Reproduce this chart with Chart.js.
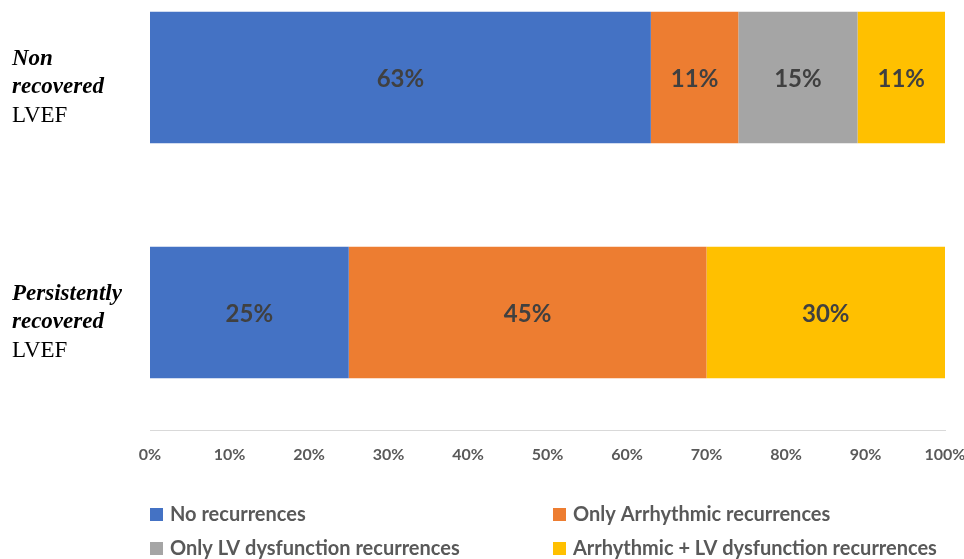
<!DOCTYPE html>
<html>
<head>
<meta charset="utf-8">
<script src="https://cdn.jsdelivr.net/npm/chart.js@4"></script>
<style>
    body { margin: 0; background: #fff; }
    #wrap { width: 964px; height: 559px; overflow: hidden; }
    /* plot area in the source is cut off at the top, so the canvas starts above the page */
    #lvefChart { display: block; margin-top: -40px; }
</style>
</head>
<body>
<div id="wrap"><canvas id="lvefChart" width="964" height="599"></canvas></div>
<script>
// Data
const categories = ['Non recovered LVEF', 'Persistently recovered LVEF'];
const seriesNames = [
    'No recurrences',
    'Only Arrhythmic recurrences',
    'Only LV dysfunction recurrences',
    'Arrhythmic + LV dysfunction recurrences'
];
const noRecurrences = [63, 25];
const onlyArrhythmic = [11, 45];
const onlyLvDysfunction = [15, 0];
const arrhythmicAndLv = [11, 30];
const xTicks = [0, 10, 20, 30, 40, 50, 60, 70, 80, 90, 100];

// Category labels: first two lines bold italic, last line regular
const categoryLines = [
    ['Non', 'recovered', 'LVEF'],
    ['Persistently', 'recovered', 'LVEF']
];

const colors = {
    blue: '#4472C4',
    orange: '#ED7D31',
    gray: '#A5A5A5',
    yellow: '#FFC000',
    label: '#404040',
    tick: '#595959',
    axis: '#D9D9D9'
};

const seriesColors = [colors.blue, colors.orange, colors.gray, colors.yellow];
const seriesValues = [noRecurrences, onlyArrhythmic, onlyLvDysfunction, arrhythmicAndLv];

// Percent labels in the middle of each segment
const segmentLabels = {
    id: 'segmentLabels',
    afterDatasetsDraw(chart) {
        const ctx = chart.ctx;
        ctx.save();
        ctx.font = 'bold 24px Lato';
        ctx.fillStyle = colors.label;
        ctx.textAlign = 'center';
        ctx.textBaseline = 'middle';
        chart.data.datasets.forEach((ds, i) => {
            chart.getDatasetMeta(i).data.forEach((bar, j) => {
                const v = ds.data[j];
                if (!v) return;
                const p = bar.getCenterPoint();
                ctx.fillText(v + '%', p.x, p.y + 2);
            });
        });
        ctx.restore();
    }
};

// Mixed-style category labels on the left
const categoryText = {
    id: 'categoryText',
    afterDraw(chart) {
        const ctx = chart.ctx;
        const yScale = chart.scales.y;
        ctx.save();
        ctx.fillStyle = '#000';
        ctx.textAlign = 'left';
        ctx.textBaseline = 'middle';
        categoryLines.forEach((lines, i) => {
            const cy = yScale.getPixelForValue(i) + 10;
            lines.forEach((line, k) => {
                const last = k === lines.length - 1;
                ctx.font = last ? '23px "Liberation Serif"' : 'italic bold 23px "Liberation Serif"';
                ctx.fillText(line, 12, cy + (k - 1) * 28);
            });
        });
        ctx.restore();
    }
};

// Two-column legend under the axis
const gridLegend = {
    id: 'gridLegend',
    afterDraw(chart) {
        const ctx = chart.ctx;
        const area = chart.chartArea;
        const colX = [area.left, area.left + 403];
        const rowY = [area.bottom + 85, area.bottom + 119];
        ctx.save();
        ctx.font = 'bold 20px Lato';
        ctx.textBaseline = 'middle';
        ctx.textAlign = 'left';
        chart.data.datasets.forEach((ds, i) => {
            const x = colX[i % 2];
            const y = rowY[Math.floor(i / 2)];
            ctx.fillStyle = ds.backgroundColor;
            ctx.fillRect(x, y - 7, 13, 13);
            ctx.fillStyle = colors.tick;
            ctx.fillText(ds.label, x + 20, y);
        });
        ctx.restore();
    }
};

document.addEventListener('DOMContentLoaded', () => {
    const ctx = document.getElementById('lvefChart').getContext('2d');

    new Chart(ctx, {
        type: 'bar',
        data: {
            labels: categories,
            datasets: seriesNames.map((name, i) => ({
                label: name,
                data: seriesValues[i],
                backgroundColor: seriesColors[i],
                borderWidth: 0,
                categoryPercentage: 1,
                barPercentage: 0.56
            }))
        },
        options: {
            indexAxis: 'y',
            responsive: false,
            animation: false,
            layout: {
                padding: { top: 0, right: 19, bottom: 0, left: 0 }
            },
            plugins: {
                legend: { display: false },
                tooltip: { enabled: false }
            },
            scales: {
                x: {
                    stacked: true,
                    min: 0,
                    max: 100,
                    afterBuildTicks: (scale) => {
                        scale.ticks = xTicks.map(v => ({ value: v }));
                    },
                    afterFit: (scale) => {
                        scale.height = 129;
                        scale.paddingLeft = 0;
                        scale.paddingRight = 0;
                    },
                    grid: { display: false, drawTicks: false },
                    border: { display: true, color: colors.axis, width: 1 },
                    ticks: {
                        callback: (value) => value + '%',
                        color: colors.tick,
                        font: { family: 'Lato', weight: 'bold', size: 16 },
                        padding: 15,
                        maxRotation: 0,
                        autoSkip: false
                    }
                },
                y: {
                    stacked: true,
                    afterFit: (scale) => {
                        scale.width = 150;
                    },
                    grid: { display: false },
                    border: { display: false },
                    ticks: { display: false }
                }
            }
        },
        plugins: [segmentLabels, categoryText, gridLegend]
    });
});
</script>
</body>
</html>
